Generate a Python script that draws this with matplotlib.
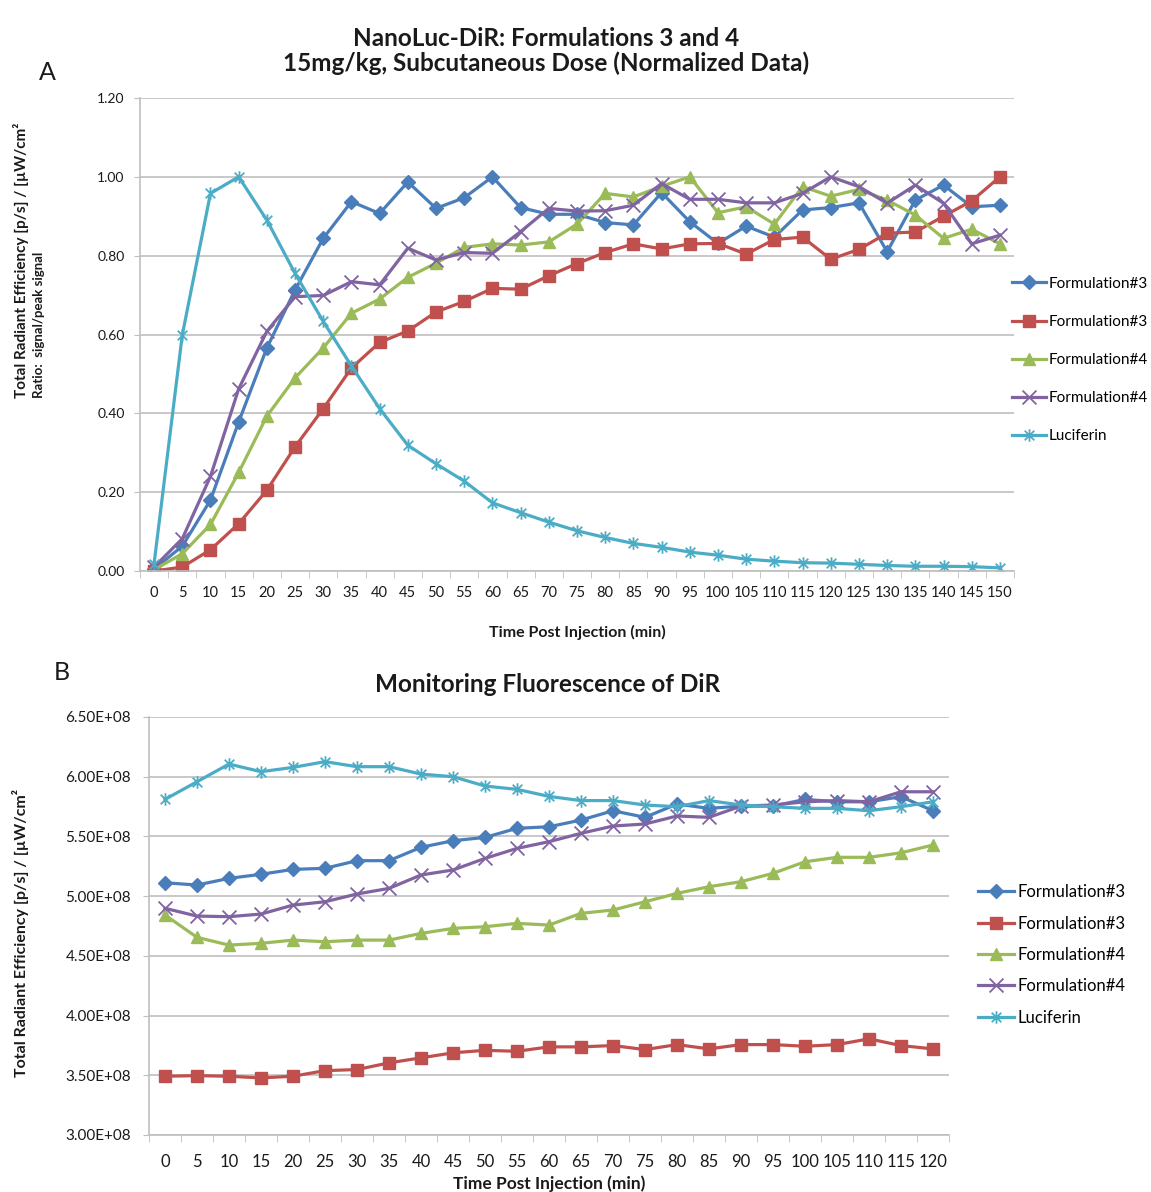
import matplotlib
matplotlib.use("Agg")
import matplotlib.pyplot as plt
from matplotlib.path import Path
import numpy as np

plt.rcParams['font.family'] = ['Lato', 'DejaVu Sans']

# ---------------- Data ----------------
time_a = [0, 5, 10, 15, 20, 25, 30, 35, 40, 45, 50, 55, 60, 65, 70, 75, 80, 85, 90, 95,
          100, 105, 110, 115, 120, 125, 130, 135, 140, 145, 150]
a_f3_blue = [0.005, 0.063, 0.18, 0.378, 0.566, 0.713, 0.844, 0.937, 0.907, 0.987, 0.92, 0.947,
             1.00, 0.922, 0.905, 0.905, 0.884, 0.878, 0.96, 0.886, 0.831, 0.875, 0.847, 0.916,
             0.922, 0.934, 0.81, 0.941, 0.979, 0.924, 0.928]
a_f3_red = [0.0, 0.01, 0.054, 0.12, 0.205, 0.315, 0.412, 0.515, 0.58, 0.609, 0.657, 0.684,
            0.717, 0.715, 0.749, 0.780, 0.808, 0.83, 0.817, 0.83, 0.831, 0.804, 0.841, 0.847,
            0.791, 0.816, 0.857, 0.86, 0.90, 0.939, 1.00]
a_f4_green = [0.003, 0.044, 0.118, 0.25, 0.393, 0.49, 0.566, 0.654, 0.69, 0.745, 0.781, 0.821,
              0.83, 0.827, 0.835, 0.88, 0.958, 0.949, 0.976, 1.00, 0.909, 0.924, 0.88, 0.975,
              0.951, 0.968, 0.941, 0.903, 0.844, 0.867, 0.83]
a_f4_purple = [0.01, 0.082, 0.24, 0.462, 0.608, 0.696, 0.699, 0.734, 0.726, 0.819, 0.789, 0.808,
               0.806, 0.861, 0.92, 0.913, 0.914, 0.928, 0.983, 0.943, 0.943, 0.934, 0.934, 0.958,
               1.00, 0.975, 0.933, 0.979, 0.933, 0.83, 0.852]
a_luciferin = [0.019, 0.599, 0.958, 1.00, 0.89, 0.755, 0.633, 0.52, 0.412, 0.319, 0.272, 0.228,
               0.173, 0.148, 0.124, 0.102, 0.085, 0.070, 0.06, 0.048, 0.04, 0.03, 0.025, 0.021,
               0.02, 0.017, 0.014, 0.012, 0.012, 0.011, 0.008]

time_b = [0, 5, 10, 15, 20, 25, 30, 35, 40, 45, 50, 55, 60, 65, 70, 75, 80, 85, 90, 95,
          100, 105, 110, 115, 120]
b_f3_blue = [5.112, 5.093, 5.149, 5.183, 5.224, 5.233, 5.297, 5.297, 5.409, 5.464, 5.492, 5.568,
             5.581, 5.637, 5.715, 5.66, 5.771, 5.735, 5.754, 5.754, 5.81, 5.79, 5.79, 5.833, 5.715]
b_f3_red = [3.492, 3.497, 3.492, 3.478, 3.492, 3.539, 3.548, 3.604, 3.646, 3.688, 3.709, 3.701,
            3.738, 3.738, 3.749, 3.715, 3.757, 3.721, 3.757, 3.757, 3.743, 3.757, 3.805, 3.749, 3.721]
b_f4_green = [4.842, 4.655, 4.59, 4.605, 4.632, 4.618, 4.632, 4.632, 4.688, 4.73, 4.744, 4.772,
              4.758, 4.856, 4.884, 4.953, 5.023, 5.079, 5.121, 5.191, 5.288, 5.325, 5.325, 5.363, 5.428]
b_f4_purple = [4.898, 4.833, 4.828, 4.85, 4.925, 4.953, 5.018, 5.065, 5.177, 5.219, 5.316, 5.40,
               5.456, 5.526, 5.587, 5.604, 5.671, 5.66, 5.754, 5.763, 5.79, 5.80, 5.79, 5.874, 5.874]
b_luciferin = [5.81, 5.958, 6.106, 6.042, 6.078, 6.126, 6.084, 6.084, 6.022, 6.00, 5.922, 5.894,
               5.835, 5.80, 5.80, 5.763, 5.749, 5.80, 5.763, 5.749, 5.735, 5.735, 5.715, 5.749, 5.79]
b_scale = 1e8

labels = ["Formulation#3", "Formulation#3", "Formulation#4", "Formulation#4", "Luciferin"]
a_ticks = [0.0, 0.2, 0.4, 0.6, 0.8, 1.0, 1.2]
b_ticks = [3.0e8, 3.5e8, 4.0e8, 4.5e8, 5.0e8, 5.5e8, 6.0e8, 6.5e8]

# ---------------- Styles ----------------
colors = ["#4A7EBB", "#C0504D", "#9BBB59", "#8064A2", "#4BACC6"]
star = Path([(-1, -1), (1, 1), (-1, 1), (1, -1), (0, -1.3), (0, 1.3)],
            [Path.MOVETO, Path.LINETO, Path.MOVETO, Path.LINETO, Path.MOVETO, Path.LINETO])
xmark = Path([(-1, -1), (1, 1), (-1, 1), (1, -1)],
             [Path.MOVETO, Path.LINETO, Path.MOVETO, Path.LINETO])
markers = ["D", "s", "^", xmark, star]
msizes = [7, 8, 8, 10, 9]

W, H = 1151, 1192
fig = plt.figure(figsize=(W / 100, H / 100), dpi=100)
grid_c = "#BFBFBF"
text_c = "#1a1a1a"


def px_axes(l, t, r, b):
    return fig.add_axes([l / W, (H - b) / H, (r - l) / W, (b - t) / H])


def style_axes(ax, n, tick_labels, yticks, yfmt, xfs, yfs, xpad, ypad):
    ax.set_xlim(-0.5, n - 0.5)
    ax.set_xticks(range(n))
    ax.set_xticklabels([str(t) for t in tick_labels], fontsize=xfs, color=text_c)
    ax.set_xticks(np.arange(-0.5, n, 1.0), minor=True)
    ax.tick_params(axis='x', which='major', length=0, pad=xpad)
    ax.tick_params(axis='x', which='minor', length=5, color=grid_c, direction='out')
    ax.set_yticks(yticks)
    ax.set_yticklabels([yfmt(v) for v in yticks], fontsize=yfs, color=text_c)
    ax.tick_params(axis='y', length=4, color=grid_c, direction='out', pad=ypad)
    ax.grid(axis='y', color=grid_c, linewidth=1.2)
    ax.set_axisbelow(True)
    for s in ['top', 'right']:
        ax.spines[s].set_visible(False)
    for s in ['left', 'bottom']:
        ax.spines[s].set_color(grid_c)
        ax.spines[s].set_linewidth(1.2)


def draw_series(ax, x, series, scale=1.0):
    for vals, c, m, ms, lab in zip(series, colors, markers, msizes, labels):
        mkw = dict(markerfacecolor=c, markeredgecolor=c)
        if m is xmark or m is star:
            mkw = dict(markeredgecolor=c, markeredgewidth=1.3)
        ax.plot(x, np.array(vals) * scale, color=c, lw=2.3, marker=m, markersize=ms,
                label=lab, **mkw)


def ftext(x, y, s, **kw):
    fig.text(x / W, 1 - y / H, s, ha='center', va='center', color=text_c, **kw)


# ---------------- Panel A ----------------
axA = px_axes(140, 98, 1014, 571)
seriesA = [a_f3_blue, a_f3_red, a_f4_green, a_f4_purple, a_luciferin]
draw_series(axA, np.arange(len(time_a)), seriesA)
axA.set_ylim(0, 1.2)
style_axes(axA, len(time_a), time_a, a_ticks, lambda v: f"{v:.2f}", 10.5, 10, 11, 7)
axA.legend(loc='center left', bbox_to_anchor=(1006 / W, (H - 360) / H),
           bbox_transform=fig.transFigure, frameon=False, fontsize=11,
           handlelength=2.2, handletextpad=0.2, labelspacing=1.58, borderaxespad=0)

ftext(546, 38, "NanoLuc-DiR: Formulations 3 and 4", fontsize=17.5, fontweight='bold')
ftext(546, 63, "15mg/kg, Subcutaneous Dose (Normalized Data)", fontsize=17.5, fontweight='bold')
ftext(47, 72, "A", fontsize=18)
ftext(577, 632, "Time Post Injection (min)", fontsize=11.5, fontweight='bold')
ftext(21, 260, "Total Radiant Efficiency [p/s] / [µW/cm²", rotation=90, fontsize=11,
      fontweight='bold')
ftext(39, 325, "Ratio:  signal/peak signal", rotation=90, fontsize=9.5, fontweight='bold')

# ---------------- Panel B ----------------
axB = px_axes(149, 717, 949, 1135)
seriesB = [b_f3_blue, b_f3_red, b_f4_green, b_f4_purple, b_luciferin]
draw_series(axB, np.arange(len(time_b)), seriesB, b_scale)
axB.set_ylim(3.0e8, 6.5e8)
style_axes(axB, len(time_b), time_b, b_ticks, lambda v: f"{v / 1e8:.2f}E+08", 12, 11, 14, 9)
axB.legend(loc='center left', bbox_to_anchor=(971 / W, (H - 955) / H),
           bbox_transform=fig.transFigure, frameon=False, fontsize=12,
           handlelength=2.2, handletextpad=0.2, labelspacing=0.92, borderaxespad=0)

ftext(548, 684, "Monitoring Fluorescence of DiR", fontsize=17.5, fontweight='bold')
ftext(62, 673, "B", fontsize=18)
ftext(549, 1184, "Time Post Injection (min)", fontsize=12.5, fontweight='bold')
ftext(21, 933, "Total Radiant Efficiency [p/s] / [µW/cm²", rotation=90, fontsize=11.5,
      fontweight='bold')

fig.savefig("out.png", dpi=100, facecolor='white')
